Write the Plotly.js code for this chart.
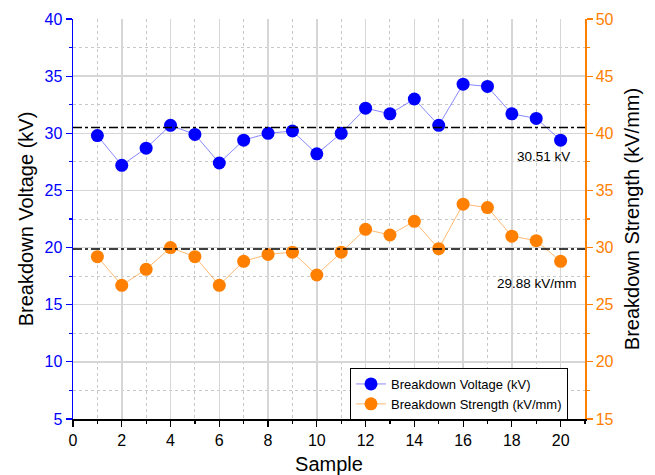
<!DOCTYPE html>
<html><head><meta charset="utf-8">
<script src="https://cdn.plot.ly/plotly-3.0.1.min.js"></script>
<style>html,body{margin:0;padding:0;background:#fff}#chart{width:655px;height:475px}</style>
</head><body><div id="chart"></div>
<script>
const samples = [1,2,3,4,5,6,7,8,9,10,11,12,13,14,15,16,17,18,19,20];
const voltage = [29.8,27.2,28.7,30.7,29.9,27.4,29.4,30.0,30.2,28.2,30.0,32.2,31.7,33.0,30.7,34.3,34.1,31.7,31.3,29.4];
const strength = [29.2,26.7,28.1,30.0,29.2,26.7,28.8,29.4,29.6,27.6,29.6,31.6,31.1,32.3,29.9,33.8,33.5,31.0,30.6,28.8];
const meanVoltage = 30.51;
const meanStrength = 29.88;
const FONT = "Arial";

const traces = [
  {x: samples, y: voltage, name: "Breakdown Voltage (kV)", type: "scatter", mode: "lines+markers",
   line: {color: "rgba(40,40,255,0.55)", width: 1}, marker: {color: "#0000ff", size: 13}, yaxis: "y"},
  {x: samples, y: strength, name: "Breakdown Strength (kV/mm)", type: "scatter", mode: "lines+markers",
   line: {color: "rgba(255,128,0,0.55)", width: 1}, marker: {color: "#ff8000", size: 13}, yaxis: "y2"}
];

const layout = {
  width: 655, height: 475,
  margin: {l: 73, r: 70, t: 19, b: 56},
  paper_bgcolor: "#fff", plot_bgcolor: "#fff",
  showlegend: true,
  font: {family: FONT, color: "#000"},
  xaxis: {
    range: [0, 21], dtick: 2, tick0: 0, showgrid: true, gridcolor: "#d6d6d6", gridwidth: 1.5,
    zeroline: false, showline: true, linecolor: "#000", linewidth: 1.5,
    ticks: "outside", ticklen: 6, tickcolor: "#000", tickwidth: 1.2,
    tickfont: {size: 16, color: "#000"},
    minor: {dtick: 1, showgrid: true, gridcolor: "#c8c8c8", griddash: "dot", gridwidth: 1, ticks: "outside", ticklen: 3, tickcolor: "#000"},
    title: {text: "Sample", font: {size: 20, color: "#000"}, standoff: 14}
  },
  xaxis2: {
    range: [0, 21], dtick: 2, tick0: 0, overlaying: "x", side: "top", anchor: "y", showgrid: false,
    zeroline: false, showline: true, linecolor: "#000", linewidth: 1.5,
    ticks: "inside", ticklen: 6, tickcolor: "#000", tickwidth: 1.2, showticklabels: false,
    minor: {dtick: 1, ticks: "inside", ticklen: 3, tickcolor: "#000"}
  },
  yaxis: {
    range: [5, 40], dtick: 5, tick0: 5, showgrid: true, gridcolor: "#d6d6d6", gridwidth: 1.5,
    zeroline: false, showline: true, linecolor: "#0000ff", linewidth: 1.5,
    ticks: "outside", ticklen: 6, tickcolor: "#0000ff", tickwidth: 1.2,
    tickfont: {size: 16, color: "#0000ff"},
    minor: {dtick: 2.5, showgrid: true, gridcolor: "#c8c8c8", griddash: "dot", gridwidth: 1, ticks: "outside", ticklen: 3, tickcolor: "#0000ff"},
    title: {text: "Breakdown Voltage (kV)", font: {size: 20, color: "#000"}, standoff: 5}
  },
  yaxis2: {
    range: [15, 50], dtick: 5, tick0: 15, overlaying: "y", side: "right", showgrid: false,
    zeroline: false, showline: true, linecolor: "#ff8000", linewidth: 1.5,
    ticks: "outside", ticklen: 6, tickcolor: "#ff8000", tickwidth: 1.2,
    tickfont: {size: 16, color: "#ff8000"},
    minor: {dtick: 2.5, ticks: "outside", ticklen: 3, tickcolor: "#ff8000"},
    title: {text: "Breakdown Strength (kV/mm)", font: {size: 20, color: "#000"}, standoff: 12}
  },
  legend: {
    x: 0.541, y: 0.1275, xanchor: "left", yanchor: "top",
    bgcolor: "#fff", bordercolor: "#000", borderwidth: 1,
    font: {size: 13, color: "#000"}, tracegroupgap: 0, itemwidth: 30
  },
  shapes: [
    {type: "line", xref: "paper", x0: 0, x1: 1, yref: "y", y0: meanVoltage, y1: meanVoltage,
     line: {color: "#000", width: 1.5, dash: "dashdot"}},
    {type: "line", xref: "paper", x0: 0, x1: 1, yref: "y2", y0: meanStrength, y1: meanStrength,
     line: {color: "#000", width: 1.5, dash: "dashdot"}}
  ],
  annotations: [
    {text: meanVoltage.toFixed(2) + " kV", xref: "x", x: 19.3, yref: "y", y: 27.95, showarrow: false,
     font: {size: 13.5, color: "#000"}},
    {text: meanStrength.toFixed(2) + " kV/mm", xref: "x", x: 19.05, yref: "y2", y: 26.9, showarrow: false,
     font: {size: 13.5, color: "#000"}}
  ]
};

Plotly.newPlot("chart", traces, layout, {displayModeBar: false, staticPlot: true});
</script>
</body></html>
